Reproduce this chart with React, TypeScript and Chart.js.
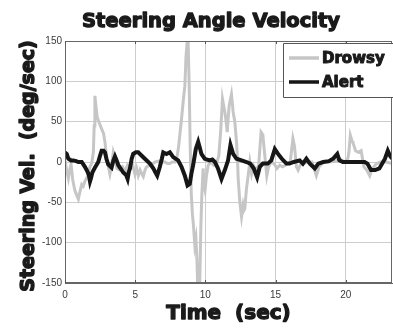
import React, { useEffect, useRef } from "react";
import { Chart, registerables } from "chart.js";

Chart.register(...registerables);

const chartTitle = "Steering Angle Velocity";
const xAxisTitle = "Time  (sec)";
const yAxisTitle = "Steering Vel.  (deg/sec)";
const seriesLabels = ["Drowsy", "Alert"];
const xTicks = [0, 5, 10, 15, 20];
const yTicks = [-150, -100, -50, 0, 50, 100, 150];

const drowsyTime = [0.0, 0.12, 0.24, 0.35, 0.43, 0.55, 0.7, 0.85, 0.95, 1.05, 1.19, 1.3, 1.42, 1.6, 1.78, 1.9, 2.02, 2.08, 2.13, 2.2, 2.3, 2.45, 2.61, 2.75, 2.85, 2.95, 3.08, 3.2, 3.32, 3.44, 3.55, 3.7, 3.91, 4.1, 4.27, 4.45, 4.63, 4.8, 4.98, 5.1, 5.22, 5.35, 5.45, 5.58, 5.7, 5.81, 6.05, 6.25, 6.41, 6.6, 6.76, 7.0, 7.12, 7.3, 7.47, 7.65, 7.83, 8.0, 8.1, 8.3, 8.45, 8.54, 8.62, 8.7, 8.77, 8.85, 8.92, 9.0, 9.08, 9.15, 9.25, 9.33, 9.4, 9.45, 9.6, 9.68, 9.75, 9.84, 9.92, 9.98, 10.08, 10.2, 10.4, 10.6, 10.8, 10.96, 11.1, 11.22, 11.3, 11.39, 11.48, 11.56, 11.63, 11.7, 11.86, 11.93, 11.98, 12.1, 12.22, 12.3, 12.34, 12.46, 12.58, 12.69, 12.75, 12.81, 12.93, 13.05, 13.17, 13.3, 13.45, 13.6, 13.8, 13.97, 14.05, 14.1, 14.26, 14.38, 14.5, 14.7, 14.9, 15.1, 15.3, 15.5, 15.7, 15.9, 16.05, 16.24, 16.35, 16.49, 16.61, 16.75, 17.0, 17.3, 17.6, 17.91, 18.1, 18.4, 18.8, 19.2, 19.6, 19.9, 20.15, 20.23, 20.33, 20.45, 20.52, 20.7, 20.9, 21.1, 21.3, 21.5, 21.71, 21.9, 22.2, 22.5, 22.9, 23.3];
const drowsyValues = [2, -10, -20, -8, -3, -22, -35, -42, -46, -38, -28, -30, -24, -18, -6, -2, 12, 45, 82, 70, 55, 48, 41, 35, 24, 8, -5, -15, -4, 12, 5, -8, -10, -6, -12, -4, -8, -2, -15, -8, -17, -10, -14, -18, -10, -6, -4, -2, 0, 1, 1, 0, 0, -2, -2, 0, 0, 8, 20, 53, 80, 94, 130, 148, 150, 94, 20, -40, -65, -78, -103, -95, -120, -150, -150, -80, -41, -8, -30, -35, -17, -4, 0, -4, -2, 8, 40, 78, 70, 62, 50, 37, 55, 70, 84, 72, 62, 50, 25, 0, -21, -50, -68, -54, -60, -58, -33, -17, 0, -15, -5, -10, -4, 37, 35, 33, 4, -17, -6, 0, -2, -8, -4, -6, -4, -2, 0, 29, 20, -6, -10, -4, -2, 0, 0, -17, -6, 0, 0, 1, 4, 0, 4, 12, 33, 26, 24, 14, 12, 14, -6, -10, -17, -8, -2, 0, 0, -2];

const alertTime = [0.0, 0.12, 0.24, 0.43, 0.6, 0.8, 0.95, 1.19, 1.42, 1.6, 1.7, 1.78, 1.85, 1.95, 2.13, 2.37, 2.5, 2.61, 2.75, 2.85, 2.95, 3.08, 3.32, 3.45, 3.56, 3.68, 3.8, 4.0, 4.15, 4.35, 4.46, 4.55, 4.63, 4.75, 4.86, 5.05, 5.22, 5.34, 5.69, 6.05, 6.3, 6.41, 6.57, 6.76, 6.9, 7.0, 7.23, 7.47, 7.71, 8.06, 8.3, 8.54, 8.73, 8.89, 9.0, 9.13, 9.32, 9.49, 9.6, 9.72, 9.96, 10.3, 10.5, 10.68, 10.9, 11.15, 11.39, 11.62, 11.79, 11.98, 12.22, 12.58, 12.93, 13.2, 13.45, 13.69, 13.88, 14.1, 14.45, 14.7, 14.95, 15.18, 15.45, 15.78, 16.0, 16.3, 16.72, 16.95, 17.2, 17.45, 17.8, 18.05, 18.4, 18.8, 19.1, 19.4, 19.55, 19.8, 20.5, 21.0, 21.35, 21.55, 21.8, 22.1, 22.4, 22.8, 23.0, 23.15, 23.3];
const alertValues = [12, 10, 4, 2, 2, 1, 0, 0, -6, -12, -16, -24, -20, -13, -7, 0, 8, 14, 14, 12, 4, -3, -7, 2, 7, 2, -4, -9, -13, -16, -21, -12, -8, 4, 10, 12, 12, 10, 4, -2, -8, -12, -17, -6, 4, 12, 10, 12, 6, 2, -6, -17, -29, -27, -15, -4, 16, 25, 18, 10, 4, 2, 3, 0, -8, -21, -10, 2, 21, 10, 4, 2, 0, -2, -8, -19, -6, -2, -2, 2, 16, 10, 4, -2, -2, 0, 2, -2, 4, -2, -8, -2, 0, 1, 4, 10, 2, 0, 0, 0, 0, -2, -10, -10, -8, 4, 14, 8, 4];

const seriesColors = ["#c6c6c6", "#161616"];
const heavyFont = "'DejaVu Sans', sans-serif";
const tickFont = "'Liberation Sans', Arial, sans-serif";

const toPoints = (xs: number[], ys: number[]) => xs.map((x, i) => ({ x, y: ys[i] }));

function heavyText(ctx: CanvasRenderingContext2D, text: string, x: number, y: number, size: number, stroke: number) {
  ctx.font = `bold ${size}px ${heavyFont}`;
  ctx.fillStyle = "#1a1a1a";
  ctx.strokeStyle = "#1a1a1a";
  ctx.lineWidth = stroke;
  ctx.lineJoin = "round";
  ctx.strokeText(text, x, y);
  ctx.fillText(text, x, y);
}

const decorPlugin = {
  id: "decor",
  afterDraw(chart: any) {
    const { ctx, chartArea } = chart;
    ctx.save();
    // frame
    ctx.strokeStyle = "#666";
    ctx.lineWidth = 1;
    ctx.strokeRect(chartArea.left + 0.5, chartArea.top + 0.5, chartArea.right - chartArea.left - 1, chartArea.bottom - chartArea.top - 1);
    // small inward tick marks on top edge
    const xs = chart.scales.x;
    ctx.strokeStyle = "#555";
    xTicks.forEach((v) => {
      const px = Math.round(xs.getPixelForValue(v)) + 0.5;
      ctx.beginPath();
      ctx.moveTo(px, chartArea.top);
      ctx.lineTo(px, chartArea.top + 3);
      ctx.moveTo(px, chartArea.bottom);
      ctx.lineTo(px, chartArea.bottom - 3);
      ctx.stroke();
    });
    // title
    ctx.textAlign = "center";
    ctx.textBaseline = "alphabetic";
    heavyText(ctx, chartTitle, 211, 27, 19.5, 1.3);
    // x axis title
    heavyText(ctx, xAxisTitle, (chartArea.left + chartArea.right) / 2, 319, 20, 1.3);
    // y axis title
    ctx.save();
    ctx.translate(34, (chartArea.top + chartArea.bottom) / 2 + 4);
    ctx.rotate(-Math.PI / 2);
    heavyText(ctx, yAxisTitle, 0, 0, 19, 1.4);
    ctx.restore();
    // legend
    const lx = 283, ly = 43, lw = 112, lh = 54;
    ctx.fillStyle = "#fff";
    ctx.fillRect(lx, ly, lw, lh);
    ctx.strokeStyle = "#555";
    ctx.lineWidth = 1;
    ctx.strokeRect(lx + 0.5, ly + 0.5, lw, lh);
    const ds = chart.data.datasets;
    const rows = [58, 82];
    ds.forEach((d: any, i: number) => {
      ctx.strokeStyle = d.borderColor;
      ctx.lineWidth = 3.5;
      ctx.beginPath();
      ctx.moveTo(289, rows[i]);
      ctx.lineTo(319, rows[i]);
      ctx.stroke();
      ctx.textAlign = "left";
      ctx.textBaseline = "middle";
      heavyText(ctx, d.label, 322, rows[i] + 1, 15, 1);
    });
    ctx.restore();
  },
};

export default function App() {
  const ref = useRef<HTMLCanvasElement | null>(null);
  useEffect(() => {
    if (!ref.current) return;
    const chart = new Chart(ref.current, {
      type: "line",
      data: {
        datasets: [
          {
            label: seriesLabels[0],
            data: toPoints(drowsyTime, drowsyValues),
            borderColor: seriesColors[0],
            borderWidth: 3,
            pointRadius: 0,
            tension: 0,
            order: 2,
          },
          {
            label: seriesLabels[1],
            data: toPoints(alertTime, alertValues),
            borderColor: seriesColors[1],
            borderWidth: 4,
            pointRadius: 0,
            tension: 0,
            order: 1,
          },
        ],
      },
      plugins: [decorPlugin],
      options: {
        animation: false,
        responsive: false,
        layout: { padding: { top: 41, right: 1, left: 0, bottom: 0 } },
        plugins: { legend: { display: false }, title: { display: false }, tooltip: { enabled: false } },
        scales: {
          x: {
            type: "linear",
            min: 0,
            max: 23.3,
            afterBuildTicks: (s: any) => {
              s.ticks = xTicks.map((v) => ({ value: v }));
            },
            afterFit: (s: any) => {
              s.height = 45;
            },
            ticks: { color: "#3a3a3a", font: { family: tickFont, size: 10 }, padding: 6, maxRotation: 0 },
            grid: { color: "#cdcdcd", drawTicks: false },
            border: { color: "#666" },
          },
          y: {
            type: "linear",
            min: -150,
            max: 150,
            afterBuildTicks: (s: any) => {
              s.ticks = yTicks.map((v) => ({ value: v }));
            },
            afterFit: (s: any) => {
              s.width = 65;
            },
            ticks: { color: "#3a3a3a", font: { family: tickFont, size: 10 }, padding: 3 },
            grid: { color: "#cdcdcd", drawTicks: false },
            border: { color: "#666" },
          },
        },
      },
    } as any);
    return () => chart.destroy();
  }, []);
  return (
    <div style={{ position: "absolute", left: 0, top: 0, width: 393, height: 328, background: "#fff" }}>
      <canvas ref={ref} width={393} height={328} style={{ width: 393, height: 328, display: "block" }} />
    </div>
  );
}
